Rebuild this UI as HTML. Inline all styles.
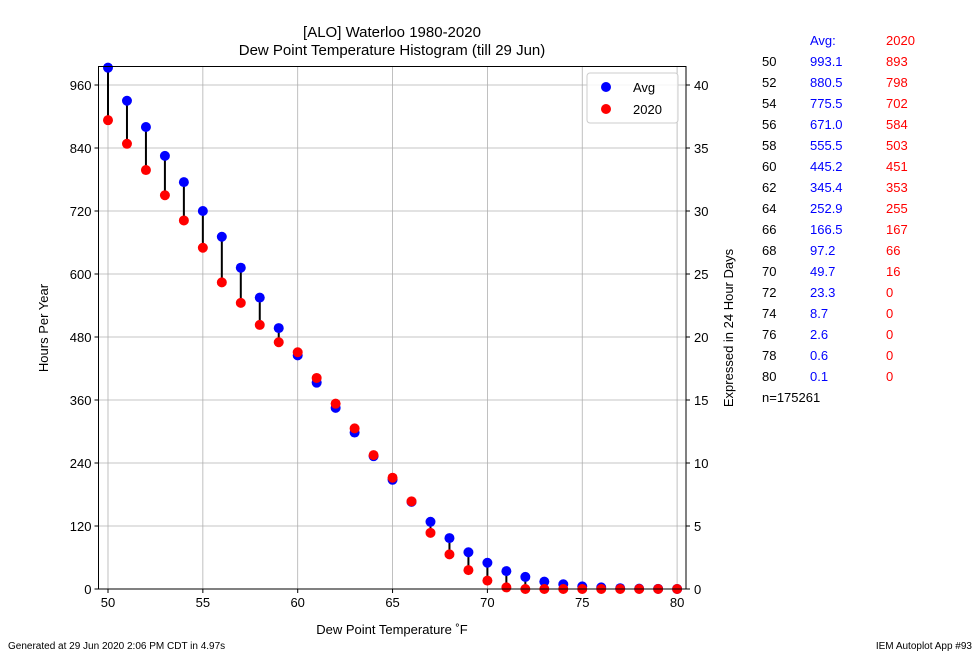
<!DOCTYPE html>
<html><head><meta charset="utf-8"><style>
body{margin:0;background:#fff;width:980px;height:653px;overflow:hidden}
svg{font-family:"Liberation Sans","DejaVu Sans",sans-serif}
</style></head><body>
<svg id="s" width="980" height="653" xmlns="http://www.w3.org/2000/svg">
<text x="392" y="37" font-size="15" text-anchor="middle">[ALO] Waterloo 1980-2020</text>
<text x="392" y="55" font-size="15" text-anchor="middle">Dew Point Temperature Histogram (till 29 Jun)</text>
<text x="392" y="634" font-size="13" text-anchor="middle">Dew Point Temperature ˚F</text>
<text x="48" y="328" font-size="13" text-anchor="middle" transform="rotate(-90 48 328)">Hours Per Year</text>
<text x="733" y="328" font-size="13" text-anchor="middle" transform="rotate(-90 733 328)">Expressed in 24 Hour Days</text>
<text x="8" y="649" font-size="10">Generated at 29 Jun 2020 2:06 PM CDT in 4.97s</text>
<text x="972" y="649" font-size="10" text-anchor="end">IEM Autoplot App #93</text>
<g id="g"></g>
</svg>
<script>
var g=document.getElementById('g'),h='';
function X(t){return 108+(t-50)*18.97}
function Y(v){return 589-v*0.525}
var L=98.5,R=686,T=66.5,B=589;
for(var t=50;t<=80;t+=5){var x=X(t);h+='<line x1="'+x+'" y1="'+T+'" x2="'+x+'" y2="'+B+'" stroke="#b0b0b0" stroke-width="0.8"/><line x1="'+x+'" y1="'+B+'" x2="'+x+'" y2="'+(B+4)+'" stroke="#000"/><text x="'+x+'" y="'+(B+18)+'" font-size="13" text-anchor="middle">'+t+'</text>';}
for(var v=0;v<=960;v+=120){var y=Y(v);h+='<line x1="'+L+'" y1="'+y+'" x2="'+R+'" y2="'+y+'" stroke="#b0b0b0" stroke-width="0.8"/><line x1="'+(L-4)+'" y1="'+y+'" x2="'+L+'" y2="'+y+'" stroke="#000"/><text x="'+(L-7)+'" y="'+(y+5)+'" font-size="13" text-anchor="end">'+v+'</text>';}
for(var d=0;d<=40;d+=5){var y=Y(d*24);h+='<line x1="'+R+'" y1="'+y+'" x2="'+(R+4)+'" y2="'+y+'" stroke="#000"/><text x="'+(R+8)+'" y="'+(y+5)+'" font-size="13">'+d+'</text>';}
var A=[993,930,880,825,775,720,671,612,555,497,445,393,345,298,253,208,166,128,97,70,50,34,23,14,9,5,3,1.5,0.6,0.3,0.1];
var C=[893,848,798,750,702,650,584,545,503,470,451,402,353,306,255,212,167,107,66,36,16,3,0,0,0,0,0,0,0,0,0];
for(var i=0;i<31;i++){var x=X(50+i);h+='<line x1="'+x+'" y1="'+Y(A[i])+'" x2="'+x+'" y2="'+Y(C[i])+'" stroke="#000" stroke-width="2"/>';}
for(var i=0;i<31;i++)h+='<circle cx="'+X(50+i)+'" cy="'+Y(A[i])+'" r="5" fill="#0000ff"/>';
for(var i=0;i<31;i++)h+='<circle cx="'+X(50+i)+'" cy="'+Y(C[i])+'" r="5" fill="#ff0000"/>';
h+='<rect x="'+L+'" y="'+T+'" width="'+(R-L)+'" height="'+(B-T)+'" fill="none" stroke="#000" stroke-width="1"/>';
h+='<rect x="587" y="73" width="91" height="50" rx="3" fill="#fff" fill-opacity="0.85" stroke="#ccc"/>';
h+='<circle cx="606" cy="87" r="5" fill="#0000ff"/><text x="633" y="92" font-size="13">Avg</text>';
h+='<circle cx="606" cy="109" r="5" fill="#ff0000"/><text x="633" y="114" font-size="13">2020</text>';
h+='<text x="810" y="45" font-size="13" fill="#0000ff">Avg:</text><text x="886" y="45" font-size="13" fill="#ff0000">2020</text>';
var av=['993.1','880.5','775.5','671.0','555.5','445.2','345.4','252.9','166.5','97.2','49.7','23.3','8.7','2.6','0.6','0.1'];
var yr=[893,798,702,584,503,451,353,255,167,66,16,0,0,0,0,0];
for(var i=0;i<16;i++){var y=66+i*21;h+='<text x="762" y="'+y+'" font-size="13">'+(50+2*i)+'</text><text x="810" y="'+y+'" font-size="13" fill="#0000ff">'+av[i]+'</text><text x="886" y="'+y+'" font-size="13" fill="#ff0000">'+yr[i]+'</text>';}
h+='<text x="762" y="'+(66+16*21)+'" font-size="13">n=175261</text>';
g.innerHTML=h;
</script>
</body></html>
